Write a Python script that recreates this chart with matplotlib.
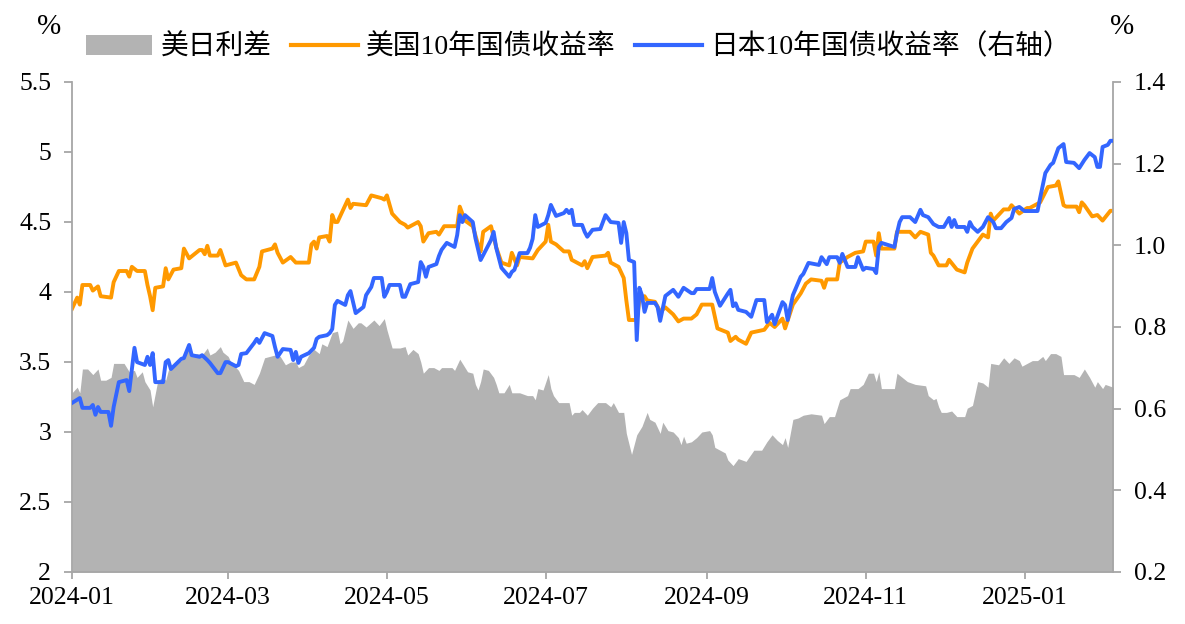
import matplotlib
matplotlib.use('Agg')
import matplotlib.pyplot as plt
import matplotlib.dates as mdates
from matplotlib.patches import Patch
from matplotlib.lines import Line2D
from matplotlib.ticker import FuncFormatter
import pandas as pd

# 美国10年国债收益率（左轴）
us_dates = ["2024-01-01", "2024-01-03", "2024-01-04", "2024-01-05", "2024-01-08", "2024-01-09", "2024-01-11", "2024-01-12",
            "2024-01-16", "2024-01-17", "2024-01-19", "2024-01-22", "2024-01-23", "2024-01-24", "2024-01-26", "2024-01-29",
            "2024-01-30", "2024-01-31", "2024-02-01", "2024-02-02", "2024-02-05", "2024-02-06", "2024-02-07", "2024-02-09",
            "2024-02-12", "2024-02-13", "2024-02-15", "2024-02-19", "2024-02-20", "2024-02-21", "2024-02-22", "2024-02-23",
            "2024-02-26", "2024-02-27", "2024-02-29", "2024-03-04", "2024-03-06", "2024-03-08", "2024-03-11", "2024-03-13",
            "2024-03-14", "2024-03-18", "2024-03-19", "2024-03-20", "2024-03-22", "2024-03-25", "2024-03-27", "2024-04-01",
            "2024-04-02", "2024-04-03", "2024-04-04", "2024-04-05", "2024-04-08", "2024-04-09", "2024-04-10", "2024-04-11",
            "2024-04-12", "2024-04-16", "2024-04-17", "2024-04-18", "2024-04-23", "2024-04-25", "2024-04-29", "2024-04-30",
            "2024-05-01", "2024-05-03", "2024-05-06", "2024-05-07", "2024-05-08", "2024-05-09", "2024-05-10", "2024-05-13",
            "2024-05-14", "2024-05-15", "2024-05-17", "2024-05-20", "2024-05-21", "2024-05-23", "2024-05-28", "2024-05-29",
            "2024-05-31", "2024-06-03", "2024-06-05", "2024-06-06", "2024-06-07", "2024-06-10", "2024-06-12", "2024-06-14",
            "2024-06-17", "2024-06-18", "2024-06-20", "2024-06-21", "2024-06-26", "2024-06-28", "2024-07-01", "2024-07-02",
            "2024-07-03", "2024-07-05", "2024-07-08", "2024-07-10", "2024-07-11", "2024-07-15", "2024-07-16", "2024-07-17",
            "2024-07-19", "2024-07-24", "2024-07-25", "2024-07-26", "2024-07-29", "2024-07-31", "2024-08-01", "2024-08-02",
            "2024-08-05", "2024-08-06", "2024-08-08", "2024-08-09", "2024-08-12", "2024-08-14", "2024-08-16", "2024-08-19",
            "2024-08-21", "2024-08-23", "2024-08-26", "2024-08-28", "2024-08-30", "2024-09-03", "2024-09-05", "2024-09-09",
            "2024-09-10", "2024-09-12", "2024-09-13", "2024-09-16", "2024-09-18", "2024-09-23", "2024-09-25", "2024-09-27",
            "2024-09-30", "2024-10-01", "2024-10-04", "2024-10-07", "2024-10-09", "2024-10-11", "2024-10-15", "2024-10-16",
            "2024-10-17", "2024-10-21", "2024-10-22", "2024-10-25", "2024-10-28", "2024-10-31", "2024-11-01", "2024-11-04",
            "2024-11-05", "2024-11-06", "2024-11-07", "2024-11-12", "2024-11-13", "2024-11-18", "2024-11-20", "2024-11-22",
            "2024-11-25", "2024-11-26", "2024-11-27", "2024-11-29", "2024-12-02", "2024-12-03", "2024-12-06", "2024-12-09",
            "2024-12-10", "2024-12-12", "2024-12-16", "2024-12-18", "2024-12-19", "2024-12-20", "2024-12-24", "2024-12-26",
            "2024-12-27", "2024-12-30", "2025-01-02", "2025-01-03", "2025-01-07", "2025-01-10", "2025-01-13", "2025-01-14",
            "2025-01-16", "2025-01-17", "2025-01-21", "2025-01-22", "2025-01-23", "2025-01-24", "2025-01-27", "2025-01-29",
            "2025-01-31", "2025-02-03", "2025-02-04"]
us_vals = [3.88, 3.96, 3.91, 4.05, 4.05, 4.01, 4.04, 3.97,
           3.96, 4.07, 4.15, 4.15, 4.11, 4.18, 4.15, 4.15,
           4.05, 3.97, 3.87, 4.03, 4.04, 4.17, 4.09, 4.16,
           4.17, 4.31, 4.24, 4.30, 4.30, 4.27, 4.33, 4.26,
           4.26, 4.30, 4.19, 4.21, 4.12, 4.09, 4.09, 4.18,
           4.29, 4.31, 4.34, 4.28, 4.21, 4.25, 4.21, 4.21,
           4.34, 4.36, 4.31, 4.39, 4.40, 4.36, 4.55, 4.50,
           4.50, 4.66, 4.60, 4.63, 4.62, 4.69, 4.67, 4.66,
           4.69, 4.56, 4.50, 4.49, 4.48, 4.46, 4.47, 4.50,
           4.47, 4.36, 4.42, 4.43, 4.41, 4.47, 4.47, 4.61,
           4.51, 4.47, 4.34, 4.29, 4.43, 4.47, 4.32, 4.21,
           4.19, 4.28, 4.19, 4.25, 4.24, 4.30, 4.36, 4.48,
           4.36, 4.34, 4.29, 4.29, 4.23, 4.19, 4.22, 4.17,
           4.25, 4.26, 4.28, 4.21, 4.18, 4.10, 3.94, 3.80,
           3.80, 3.94, 3.97, 3.94, 3.93, 3.86, 3.89, 3.84,
           3.79, 3.81, 3.81, 3.84, 3.91, 3.91, 3.74, 3.71,
           3.65, 3.68, 3.66, 3.63, 3.71, 3.73, 3.78, 3.75,
           3.81, 3.74, 3.91, 3.99, 4.06, 4.09, 4.08, 4.03,
           4.09, 4.09, 4.21, 4.25, 4.28, 4.29, 4.36, 4.36,
           4.26, 4.42, 4.31, 4.31, 4.43, 4.43, 4.39, 4.43,
           4.41, 4.28, 4.26, 4.19, 4.19, 4.23, 4.16, 4.14,
           4.21, 4.31, 4.41, 4.39, 4.56, 4.51, 4.59, 4.59,
           4.62, 4.56, 4.60, 4.60, 4.64, 4.75, 4.76, 4.79,
           4.62, 4.61, 4.61, 4.57, 4.64, 4.62, 4.54, 4.55,
           4.51, 4.58, 4.58]

# 日本10年国债收益率（右轴）
jp_dates = ["2024-01-01", "2024-01-04", "2024-01-05", "2024-01-08", "2024-01-09", "2024-01-10", "2024-01-11", "2024-01-12",
            "2024-01-15", "2024-01-16", "2024-01-17", "2024-01-19", "2024-01-22", "2024-01-23", "2024-01-25", "2024-01-26",
            "2024-01-29", "2024-01-30", "2024-01-31", "2024-02-01", "2024-02-02", "2024-02-05", "2024-02-06", "2024-02-07",
            "2024-02-08", "2024-02-12", "2024-02-13", "2024-02-15", "2024-02-16", "2024-02-19", "2024-02-20", "2024-02-22",
            "2024-02-23", "2024-02-26", "2024-02-27", "2024-02-29", "2024-03-01", "2024-03-04", "2024-03-05", "2024-03-06",
            "2024-03-08", "2024-03-11", "2024-03-12", "2024-03-13", "2024-03-15", "2024-03-18", "2024-03-19", "2024-03-20",
            "2024-03-22", "2024-03-25", "2024-03-26", "2024-03-27", "2024-03-28", "2024-03-29", "2024-04-01", "2024-04-03",
            "2024-04-04", "2024-04-05", "2024-04-08", "2024-04-09", "2024-04-10", "2024-04-11", "2024-04-12", "2024-04-15",
            "2024-04-16", "2024-04-17", "2024-04-18", "2024-04-19", "2024-04-22", "2024-04-23", "2024-04-24", "2024-04-25",
            "2024-04-26", "2024-04-29", "2024-04-30", "2024-05-01", "2024-05-02", "2024-05-06", "2024-05-07", "2024-05-08",
            "2024-05-10", "2024-05-13", "2024-05-14", "2024-05-15", "2024-05-16", "2024-05-17", "2024-05-20", "2024-05-21",
            "2024-05-22", "2024-05-24", "2024-05-27", "2024-05-28", "2024-05-29", "2024-05-30", "2024-05-31", "2024-06-03",
            "2024-06-04", "2024-06-06", "2024-06-07", "2024-06-10", "2024-06-11", "2024-06-12", "2024-06-14", "2024-06-17",
            "2024-06-18", "2024-06-19", "2024-06-21", "2024-06-24", "2024-06-25", "2024-06-26", "2024-06-27", "2024-06-28",
            "2024-07-01", "2024-07-02", "2024-07-03", "2024-07-05", "2024-07-08", "2024-07-09", "2024-07-10", "2024-07-11",
            "2024-07-12", "2024-07-15", "2024-07-16", "2024-07-17", "2024-07-19", "2024-07-22", "2024-07-24", "2024-07-26",
            "2024-07-29", "2024-07-30", "2024-07-31", "2024-08-01", "2024-08-02", "2024-08-04", "2024-08-05", "2024-08-06",
            "2024-08-07", "2024-08-08", "2024-08-09", "2024-08-12", "2024-08-13", "2024-08-14", "2024-08-16", "2024-08-19",
            "2024-08-21", "2024-08-23", "2024-08-26", "2024-08-27", "2024-08-28", "2024-09-02", "2024-09-03", "2024-09-04",
            "2024-09-06", "2024-09-09", "2024-09-10", "2024-09-11", "2024-09-12", "2024-09-13", "2024-09-16", "2024-09-18",
            "2024-09-20", "2024-09-23", "2024-09-24", "2024-09-26", "2024-09-27", "2024-09-30", "2024-10-01", "2024-10-02",
            "2024-10-04", "2024-10-07", "2024-10-08", "2024-10-10", "2024-10-14", "2024-10-15", "2024-10-17", "2024-10-18",
            "2024-10-21", "2024-10-22", "2024-10-23", "2024-10-25", "2024-10-28", "2024-10-29", "2024-10-31", "2024-11-01",
            "2024-11-04", "2024-11-05", "2024-11-06", "2024-11-07", "2024-11-11", "2024-11-12", "2024-11-13", "2024-11-14",
            "2024-11-15", "2024-11-18", "2024-11-20", "2024-11-22", "2024-11-23", "2024-11-25", "2024-11-27", "2024-11-29",
            "2024-12-01", "2024-12-03", "2024-12-04", "2024-12-05", "2024-12-06", "2024-12-09", "2024-12-10", "2024-12-11",
            "2024-12-12", "2024-12-14", "2024-12-16", "2024-12-18", "2024-12-20", "2024-12-21", "2024-12-23", "2024-12-25",
            "2024-12-27", "2024-12-28", "2024-12-30", "2025-01-01", "2025-01-06", "2025-01-07", "2025-01-09", "2025-01-11",
            "2025-01-12", "2025-01-14", "2025-01-16", "2025-01-17", "2025-01-20", "2025-01-22", "2025-01-24", "2025-01-26",
            "2025-01-28", "2025-01-29", "2025-01-30", "2025-01-31", "2025-02-02", "2025-02-03", "2025-02-04"]
jp_vals = [0.614, 0.626, 0.602, 0.602, 0.609, 0.585, 0.604, 0.592,
           0.592, 0.558, 0.604, 0.665, 0.670, 0.643, 0.749, 0.714,
           0.707, 0.727, 0.707, 0.736, 0.665, 0.665, 0.714, 0.719,
           0.697, 0.722, 0.724, 0.756, 0.731, 0.727, 0.731, 0.719,
           0.712, 0.687, 0.687, 0.714, 0.714, 0.704, 0.707, 0.734,
           0.736, 0.761, 0.771, 0.761, 0.785, 0.778, 0.751, 0.727,
           0.746, 0.744, 0.719, 0.739, 0.712, 0.727, 0.736, 0.749,
           0.771, 0.776, 0.780, 0.785, 0.795, 0.854, 0.864, 0.854,
           0.878, 0.888, 0.861, 0.834, 0.849, 0.878, 0.888, 0.898,
           0.920, 0.920, 0.874, 0.886, 0.903, 0.903, 0.874, 0.874,
           0.905, 0.910, 0.959, 0.947, 0.923, 0.947, 0.954, 0.974,
           0.989, 1.006, 0.996, 1.025, 1.074, 1.057, 1.074, 1.057,
           1.018, 0.964, 0.976, 1.013, 1.033, 0.994, 0.945, 0.923,
           0.935, 0.940, 0.981, 0.981, 0.994, 1.016, 1.074, 1.045,
           1.055, 1.074, 1.099, 1.072, 1.079, 1.087, 1.079, 1.087,
           1.050, 1.050, 1.033, 1.021, 1.038, 1.040, 1.074, 1.057,
           1.055, 1.006, 1.057, 1.030, 0.964, 0.959, 0.768, 0.896,
           0.878, 0.837, 0.859, 0.859, 0.849, 0.815, 0.876, 0.891,
           0.874, 0.896, 0.883, 0.883, 0.893, 0.893, 0.920, 0.886,
           0.852, 0.882, 0.891, 0.851, 0.858, 0.842, 0.837, 0.825,
           0.866, 0.866, 0.812, 0.830, 0.807, 0.861, 0.854, 0.817,
           0.878, 0.923, 0.930, 0.957, 0.952, 0.971, 0.954, 0.971,
           0.971, 0.957, 0.979, 0.947, 0.947, 0.971, 0.940, 0.945,
           0.942, 0.932, 0.996, 1.006, 0.998, 0.996, 1.030, 1.057,
           1.069, 1.069, 1.057, 1.087, 1.074, 1.069, 1.052, 1.045,
           1.045, 1.067, 1.045, 1.062, 1.045, 1.045, 1.033, 1.057,
           1.045, 1.033, 1.045, 1.069, 1.057, 1.042, 1.042, 1.057,
           1.067, 1.089, 1.094, 1.084, 1.084, 1.116, 1.177, 1.197,
           1.202, 1.238, 1.248, 1.204, 1.202, 1.189, 1.209, 1.226,
           1.216, 1.192, 1.192, 1.241, 1.246, 1.256, 1.256]

# 美日利差（左轴）
spread_dates = ["2024-01-01", "2024-01-03", "2024-01-04", "2024-01-05", "2024-01-07", "2024-01-09", "2024-01-11", "2024-01-12",
                "2024-01-14", "2024-01-16", "2024-01-17", "2024-01-20", "2024-01-21", "2024-01-23", "2024-01-25", "2024-01-26",
                "2024-01-28", "2024-01-29", "2024-01-31", "2024-02-01", "2024-02-03", "2024-02-05", "2024-02-06", "2024-02-07",
                "2024-02-10", "2024-02-12", "2024-02-15", "2024-02-16", "2024-02-18", "2024-02-20", "2024-02-22", "2024-02-23",
                "2024-02-25", "2024-02-27", "2024-02-28", "2024-03-01", "2024-03-02", "2024-03-05", "2024-03-07", "2024-03-09",
                "2024-03-11", "2024-03-13", "2024-03-15", "2024-03-17", "2024-03-19", "2024-03-21", "2024-03-23", "2024-03-25",
                "2024-03-27", "2024-03-28", "2024-03-30", "2024-04-01", "2024-04-03", "2024-04-05", "2024-04-06", "2024-04-08",
                "2024-04-10", "2024-04-12", "2024-04-13", "2024-04-14", "2024-04-16", "2024-04-18", "2024-04-20", "2024-04-21",
                "2024-04-23", "2024-04-26", "2024-04-28", "2024-04-30", "2024-05-01", "2024-05-03", "2024-05-06", "2024-05-08",
                "2024-05-09", "2024-05-11", "2024-05-13", "2024-05-14", "2024-05-15", "2024-05-17", "2024-05-19", "2024-05-21",
                "2024-05-22", "2024-05-24", "2024-05-26", "2024-05-27", "2024-05-29", "2024-05-31", "2024-06-01", "2024-06-03",
                "2024-06-04", "2024-06-05", "2024-06-06", "2024-06-07", "2024-06-09", "2024-06-11", "2024-06-12", "2024-06-13",
                "2024-06-15", "2024-06-17", "2024-06-18", "2024-06-21", "2024-06-24", "2024-06-26", "2024-06-27", "2024-06-28",
                "2024-06-30", "2024-07-02", "2024-07-03", "2024-07-04", "2024-07-06", "2024-07-08", "2024-07-10", "2024-07-11",
                "2024-07-12", "2024-07-14", "2024-07-15", "2024-07-17", "2024-07-19", "2024-07-21", "2024-07-24", "2024-07-26",
                "2024-07-27", "2024-07-29", "2024-07-31", "2024-08-01", "2024-08-03", "2024-08-05", "2024-08-07", "2024-08-09",
                "2024-08-10", "2024-08-12", "2024-08-14", "2024-08-15", "2024-08-17", "2024-08-19", "2024-08-21", "2024-08-22",
                "2024-08-23", "2024-08-24", "2024-08-26", "2024-08-28", "2024-08-30", "2024-09-02", "2024-09-03", "2024-09-04",
                "2024-09-06", "2024-09-08", "2024-09-09", "2024-09-11", "2024-09-13", "2024-09-16", "2024-09-19", "2024-09-22",
                "2024-09-24", "2024-09-26", "2024-09-28", "2024-09-30", "2024-10-01", "2024-10-02", "2024-10-04", "2024-10-06",
                "2024-10-08", "2024-10-11", "2024-10-15", "2024-10-16", "2024-10-18", "2024-10-20", "2024-10-22", "2024-10-25",
                "2024-10-26", "2024-10-29", "2024-10-31", "2024-11-02", "2024-11-04", "2024-11-05", "2024-11-06", "2024-11-07",
                "2024-11-12", "2024-11-13", "2024-11-15", "2024-11-17", "2024-11-20", "2024-11-24", "2024-11-25", "2024-11-27",
                "2024-11-28", "2024-11-29", "2024-11-30", "2024-12-02", "2024-12-04", "2024-12-06", "2024-12-09", "2024-12-10",
                "2024-12-12", "2024-12-14", "2024-12-16", "2024-12-18", "2024-12-19", "2024-12-22", "2024-12-24", "2024-12-26",
                "2024-12-28", "2024-12-30", "2024-12-31", "2025-01-02", "2025-01-04", "2025-01-06", "2025-01-08", "2025-01-09",
                "2025-01-11", "2025-01-13", "2025-01-15", "2025-01-16", "2025-01-20", "2025-01-22", "2025-01-24", "2025-01-26",
                "2025-01-28", "2025-01-29", "2025-01-31", "2025-02-01", "2025-02-04"]
spread_vals = [3.28, 3.32, 3.28, 3.45, 3.45, 3.41, 3.45, 3.37,
               3.37, 3.39, 3.49, 3.49, 3.49, 3.43, 3.44, 3.39,
               3.43, 3.36, 3.30, 3.18, 3.37, 3.39, 3.37, 3.44,
               3.49, 3.51, 3.62, 3.55, 3.56, 3.55, 3.60, 3.55,
               3.57, 3.61, 3.57, 3.54, 3.50, 3.44, 3.36, 3.36,
               3.34, 3.42, 3.53, 3.54, 3.55, 3.54, 3.48, 3.50,
               3.50, 3.46, 3.48, 3.55, 3.59, 3.56, 3.63, 3.61,
               3.71, 3.72, 3.63, 3.65, 3.80, 3.74, 3.78, 3.78,
               3.75, 3.80, 3.76, 3.81, 3.73, 3.60, 3.60, 3.61,
               3.55, 3.59, 3.56, 3.50, 3.42, 3.46, 3.46, 3.44,
               3.46, 3.46, 3.46, 3.44, 3.52, 3.46, 3.43, 3.42,
               3.34, 3.30, 3.36, 3.45, 3.44, 3.39, 3.34, 3.28,
               3.28, 3.34, 3.28, 3.28, 3.26, 3.26, 3.23, 3.31,
               3.30, 3.41, 3.31, 3.26, 3.21, 3.21, 3.21, 3.12,
               3.14, 3.14, 3.16, 3.12, 3.17, 3.21, 3.21, 3.18,
               3.21, 3.14, 3.14, 2.99, 2.84, 2.98, 3.04, 3.14,
               3.09, 3.07, 2.99, 3.07, 3.01, 3.00, 2.96, 2.91,
               2.97, 2.92, 2.93, 2.96, 3.00, 3.01, 2.98, 2.89,
               2.87, 2.85, 2.80, 2.76, 2.81, 2.79, 2.87, 2.87,
               2.93, 2.98, 2.94, 2.91, 2.96, 2.89, 3.09, 3.10,
               3.12, 3.13, 3.12, 3.06, 3.11, 3.11, 3.23, 3.26,
               3.31, 3.31, 3.34, 3.42, 3.42, 3.36, 3.43, 3.31,
               3.31, 3.42, 3.39, 3.36, 3.34, 3.33, 3.26, 3.23,
               3.24, 3.18, 3.14, 3.14, 3.15, 3.11, 3.11, 3.17,
               3.19, 3.36, 3.35, 3.32, 3.49, 3.48, 3.53, 3.49,
               3.53, 3.51, 3.47, 3.49, 3.51, 3.51, 3.54, 3.51,
               3.56, 3.56, 3.54, 3.41, 3.41, 3.39, 3.45, 3.39,
               3.32, 3.36, 3.31, 3.34, 3.32]

legend_labels = ["美日利差", "美国10年国债收益率", "日本10年国债收益率（右轴）"]
left_ticks = [2, 2.5, 3, 3.5, 4, 4.5, 5, 5.5]
right_ticks = [0.2, 0.4, 0.6, 0.8, 1.0, 1.2, 1.4]

GRAY = '#B3B3B3'
ORANGE = '#FF9900'
BLUE = '#3366FF'
AXIS = '#A6A6A6'

plt.rcParams['font.family'] = ['Liberation Serif', 'Noto Sans CJK SC']

fig = plt.figure(figsize=(11.85, 6.24), dpi=100)
ax = fig.add_axes([72 / 1185, 1 - 572 / 624, (1113 - 72) / 1185, (572 - 82) / 624])
ax2 = ax.twinx()

ax.fill_between(pd.to_datetime(spread_dates), spread_vals, 2, color=GRAY, lw=0, zorder=1)
ax.plot(pd.to_datetime(us_dates), us_vals, color=ORANGE, lw=2.8, zorder=2)
ax2.plot(pd.to_datetime(jp_dates), jp_vals, color=BLUE, lw=2.8, zorder=3)

ax.set_xlim(pd.Timestamp("2024-01-01"), pd.Timestamp("2025-02-04"))
ax.xaxis.set_major_locator(mdates.MonthLocator(bymonth=[1, 3, 5, 7, 9, 11]))
ax.xaxis.set_major_formatter(mdates.DateFormatter('%Y-%m'))

ax.set_ylim(2, 5.5)
ax.set_yticks(left_ticks)
ax.yaxis.set_major_formatter(FuncFormatter(lambda v, p: '%g' % v))
ax2.set_ylim(0.2, 1.4)
ax2.set_yticks(right_ticks)
ax2.yaxis.set_major_formatter(FuncFormatter(lambda v, p: '%.1f' % v))

# 坐标轴样式
for a in (ax, ax2):
    a.spines['top'].set_visible(False)
    a.set_facecolor('none')
ax.spines['right'].set_visible(False)
ax2.spines['left'].set_visible(False)
ax2.spines['bottom'].set_visible(False)
for s in (ax.spines['left'], ax.spines['bottom'], ax2.spines['right']):
    s.set_color(AXIS)
    s.set_linewidth(1.3)

ax.tick_params(axis='y', direction='out', length=6, width=1.3, color=AXIS, labelsize=18.5, pad=9)
ax.tick_params(axis='x', direction='out', length=5, width=1.3, color=AXIS, labelsize=18.5, pad=6)
ax2.tick_params(axis='y', direction='out', length=6, width=1.3, color=AXIS, labelsize=18.5, pad=9)

fig.text(49 / 1185, 1 - 27 / 624, '%', ha='center', va='center', fontsize=21)
fig.text(1122 / 1185, 1 - 27 / 624, '%', ha='center', va='center', fontsize=21)

handles = [Patch(facecolor=GRAY, edgecolor='none'),
           Line2D([], [], color=ORANGE, lw=3),
           Line2D([], [], color=BLUE, lw=3)]
fig.legend(handles, legend_labels, loc='center', bbox_to_anchor=(0.488, 0.924), ncol=3,
           frameon=False, fontsize=20, handlelength=2.4, handleheight=0.7,
           handletextpad=0.3, columnspacing=0.7, borderaxespad=0)

fig.savefig('out.png', dpi=100)
